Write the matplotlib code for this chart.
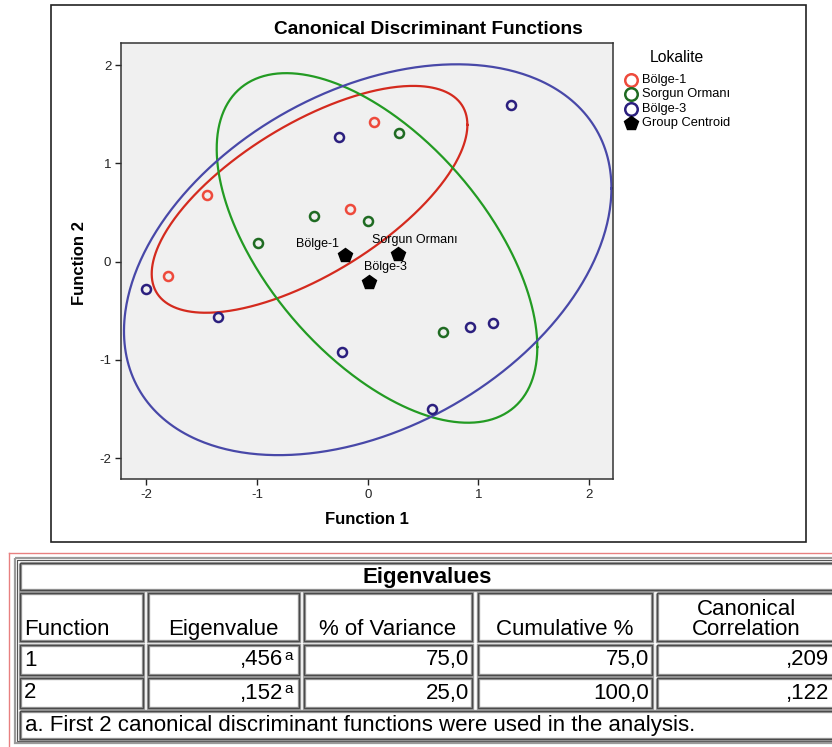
import numpy as np
import matplotlib
matplotlib.use('Agg')
import matplotlib.pyplot as plt
from matplotlib.patches import Rectangle

plt.rcParams['font.family'] = ['Liberation Sans', 'DejaVu Sans']
plt.rcParams['axes.unicode_minus'] = False

# scores per group (Function 1, Function 2)
groups = ['Bölge-1', 'Sorgun Ormanı', 'Bölge-3']
b1_x = [0.055, -1.45, -0.16, -1.80]
b1_y = [1.42, 0.68, 0.54, -0.145]
so_x = [0.28, -0.485, 0.005, -0.99, 0.68]
so_y = [1.31, 0.465, 0.41, 0.19, -0.72]
b3_x = [-0.26, 1.29, -2.00, -1.35, -0.23, 0.92, 1.13, 0.58]
b3_y = [1.27, 1.60, -0.28, -0.56, -0.92, -0.67, -0.62, -1.50]
cent_x = [-0.205, 0.27, 0.012]
cent_y = [0.068, 0.078, -0.21]

# ellipses: centre + spread matrix (var x, var y, cov)
ell_cx = [-0.525, 0.084, 0.0]
ell_cy = [0.635, 0.14, 0.02]
ell_vx = [2.03, 2.094, 4.84]
ell_vy = [1.334, 3.168, 3.96]
ell_cov = [1.08, -1.46, 1.6]

# eigenvalues table
tbl_title = 'Eigenvalues'
tbl_cols = ['Function', 'Eigenvalue', '% of Variance', 'Cumulative %', 'Canonical\nCorrelation']
func = [1, 2]
eigen = [0.456, 0.152]
pct_var = [75.0, 25.0]
cum_pct = [75.0, 100.0]
can_corr = [0.209, 0.122]
footnote = 'a. First 2 canonical discriminant functions were used in the analysis.'

pt_colors = ['#ee4a3c', '#1f6b22', '#2b1f7e']
ell_colors = ['#d42a1e', '#239b23', '#4848a8']

W, H = 832, 747
fig = plt.figure(figsize=(W / 100, H / 100), dpi=100)

# pixel overlay for frame + table
ov = fig.add_axes([0, 0, 1, 1])
ov.set_xlim(0, W)
ov.set_ylim(H, 0)
ov.axis('off')

ov.add_patch(Rectangle((51, 5), 755, 537, fill=False, ec='#222222', lw=1.2))

pl, pr, pt, pb = 121, 613.3, 42.7, 479.3
ax = fig.add_axes([pl / W, 1 - pb / H, (pr - pl) / W, (pb - pt) / H])
ax.set_facecolor('#f0f0f0')
ax.set_xlim(-2.227, 2.217)
ax.set_ylim(-2.216, 2.23)
ax.set_xticks([-2, -1, 0, 1, 2])
ax.set_yticks([-2, -1, 0, 1, 2])
ax.tick_params(direction='out', length=4, width=1, colors='#222222', labelsize=9.5, pad=3)
for s in ax.spines.values():
    s.set_color('#333333')
    s.set_linewidth(1.1)

t = np.linspace(0, 2 * np.pi, 500)
for i in range(3):
    S = np.array([[ell_vx[i], ell_cov[i]], [ell_cov[i], ell_vy[i]]])
    L = np.linalg.cholesky(S)
    pts = L @ np.vstack([np.cos(t), np.sin(t)])
    ax.plot(ell_cx[i] + pts[0], ell_cy[i] + pts[1], color=ell_colors[i], lw=1.6, zorder=2)

for xs, ys, c in zip([b1_x, so_x, b3_x], [b1_y, so_y, b3_y], pt_colors):
    ax.plot(xs, ys, 'o', ms=6.5, mfc='none', mec=c, mew=1.8, zorder=3)

ax.plot(cent_x, cent_y, 'p', ms=10, color='black', zorder=4)
offs = [(-6, 11, 'right'), (17, 14, 'center'), (16, 15, 'center')]
for i, g in enumerate(groups):
    ox, oy, ha = offs[i]
    ax.annotate(g, (cent_x[i], cent_y[i]), xytext=(ox, oy), textcoords='offset pixels',
                ha=ha, va='center', fontsize=9)

ov.text(428, 30, 'Canonical Discriminant Functions', ha='center', va='center',
        fontsize=13.8, weight='bold')
ov.text(367, 519, 'Function 1', ha='center', va='center', fontsize=12, weight='bold')
ov.text(80, 263, 'Function 2', ha='center', va='center', fontsize=12, weight='bold',
        rotation=90)

# legend
ov.text(677, 58, 'Lokalite', ha='center', va='center', fontsize=11.3)
leg_y = [80, 94.3, 108.7]
for y, c, g in zip(leg_y, pt_colors, groups):
    ov.plot(631, y, 'o', ms=9, mfc='none', mec=c, mew=1.8)
    ov.text(642, y, g, ha='left', va='center', fontsize=9.3)
ov.plot(631, 123, 'p', ms=10, color='black')
ov.text(642, 123, 'Group Centroid', ha='left', va='center', fontsize=9.3)

# table
ov.plot([9, W], [553, 553], color='#e88080', lw=1)
ov.plot([9, 9], [553, H], color='#e88080', lw=1)
ov.add_patch(Rectangle((15, 558), 840, 185, fill=False, ec='#9a9a9a', lw=1.6))
ov.add_patch(Rectangle((17, 560), 836, 181, fill=False, ec='#555555', lw=0.8))

col_l = [20, 148, 304, 478, 657]
col_r = [143, 299, 472, 652, 835]
rows_t = [645, 678]
rows_b = [675, 708]
fs = 16


def cell(x0, y0, x1, y1):
    ov.add_patch(Rectangle((x0, y0), x1 - x0, y1 - y0, fill=False, ec='#a0a0a0', lw=2.4))
    ov.add_patch(Rectangle((x0, y0), x1 - x0, y1 - y0, fill=False, ec='#4a4a4a', lw=1.0))


cell(20, 563, 835, 590)
ov.text(427, 577, tbl_title, ha='center', va='center', fontsize=fs, weight='bold')
for j, name in enumerate(tbl_cols):
    cell(col_l[j], 593, col_r[j], 641)
    if j == 0:
        ov.text(col_l[j] + 4, 635, name, ha='left', va='baseline', fontsize=fs)
    else:
        ov.text((col_l[j] + col_r[j]) / 2, 635, name, ha='center', va='baseline',
                fontsize=fs, linespacing=0.95, multialignment='center')


def fmt_lead(v):
    return ('%.3f' % v).lstrip('0').replace('.', ',')


for i in range(2):
    yt, yb = rows_t[i], rows_b[i]
    yc = (yt + yb) / 2
    for j in range(5):
        cell(col_l[j], yt, col_r[j], yb)
    ov.text(col_l[0] + 4, yc, str(func[i]), ha='left', va='center', fontsize=fs)
    ov.text(col_r[1] - 16, yc, fmt_lead(eigen[i]), ha='right', va='center', fontsize=fs)
    ov.text(col_r[1] - 15, yc - 4, 'a', ha='left', va='center', fontsize=11)
    ov.text(col_r[2] - 3, yc, ('%.1f' % pct_var[i]).replace('.', ','), ha='right', va='center', fontsize=fs)
    ov.text(col_r[3] - 3, yc, ('%.1f' % cum_pct[i]).replace('.', ','), ha='right', va='center', fontsize=fs)
    ov.text(col_r[4] - 6, yc, fmt_lead(can_corr[i]), ha='right', va='center', fontsize=fs)

cell(20, 711, 835, 739)
ov.text(25, 725, footnote, ha='left', va='center', fontsize=fs)

fig.savefig('out.png', dpi=100)
